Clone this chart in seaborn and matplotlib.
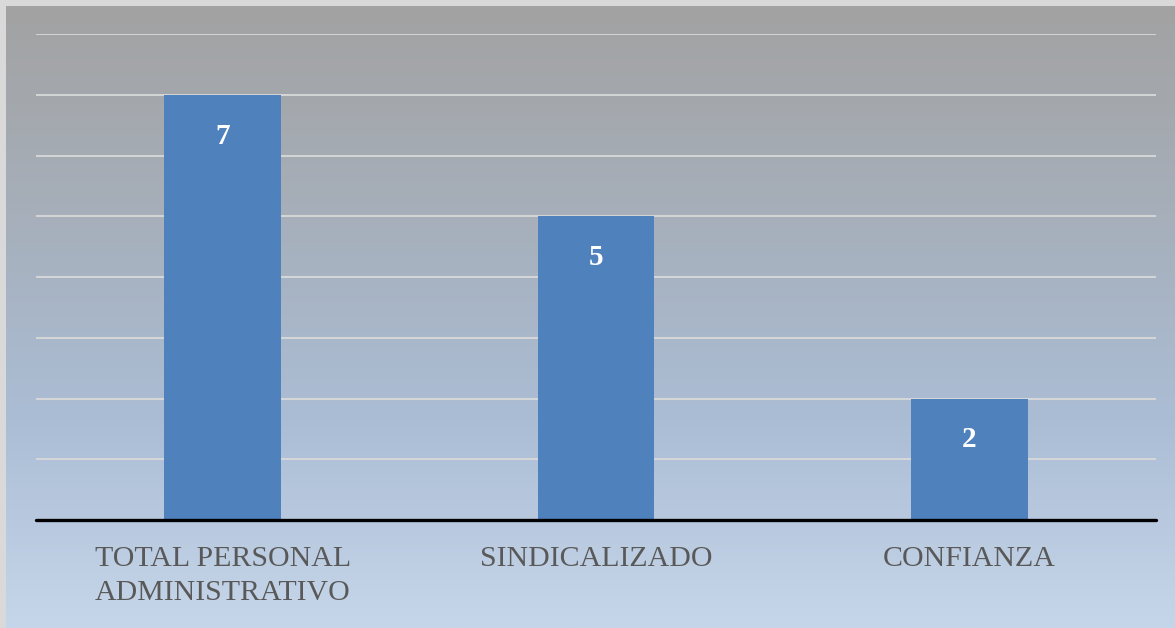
import matplotlib
matplotlib.use("Agg")
import matplotlib.pyplot as plt
import seaborn as sns
import numpy as np
from matplotlib.colors import LinearSegmentedColormap

categories = ["TOTAL PERSONAL\nADMINISTRATIVO", "SINDICALIZADO", "CONFIANZA"]
values = [7, 5, 2]
y_ticks = [0, 1, 2, 3, 4, 5, 6, 7, 8]

sns.set_style("white")
plt.rcParams["font.family"] = ["Liberation Serif", "DejaVu Serif"]

W, H = 1175, 628
fig = plt.figure(figsize=(W / 100, H / 100), dpi=100)
fig.patch.set_facecolor("#d9d9d9")

# gradient background (gray at top -> light blue at bottom)
bg = fig.add_axes([6 / W, 0, 1 - 6 / W, 1 - 6 / H])
cmap = LinearSegmentedColormap.from_list(
    "bg", ["#a2a2a2", "#a6afba", "#abbdd5", "#c6d6ea"])
grad = np.linspace(0, 1, 256).reshape(-1, 1)
bg.imshow(grad, aspect="auto", cmap=cmap, extent=[0, 1, 0, 1], origin="upper")
bg.axis("off")

ax = fig.add_axes([36 / W, 1 - 520 / H, (1156 - 36) / W, (520 - 34) / H])
ax.patch.set_alpha(0)

for t in y_ticks[1:]:
    ax.axhline(t, color="#d9d9d9", lw=1.3, zorder=0)

sns.barplot(x=categories, y=values, color="#4f81bd", saturation=1,
            width=0.313, linewidth=0, ax=ax, zorder=2)

ax.set_xlim(-0.5, 2.5)
ax.set_ylim(0, 8)
ax.axhline(0, color="black", lw=2.4, zorder=3, clip_on=False)

for i, v in enumerate(values):
    ax.text(i, v - 0.68, str(v), ha="center", va="center", color="white",
            fontsize=21, fontweight="bold")

ax.set_yticks([])
ax.tick_params(axis="x", length=0, pad=19, labelsize=21.5, labelcolor="#595959")
for lbl in ax.get_xticklabels():
    lbl.set_linespacing(1.38)
ax.set_xlabel("")
ax.set_ylabel("")
for s in ax.spines.values():
    s.set_visible(False)

fig.savefig("out.png", dpi=100)
